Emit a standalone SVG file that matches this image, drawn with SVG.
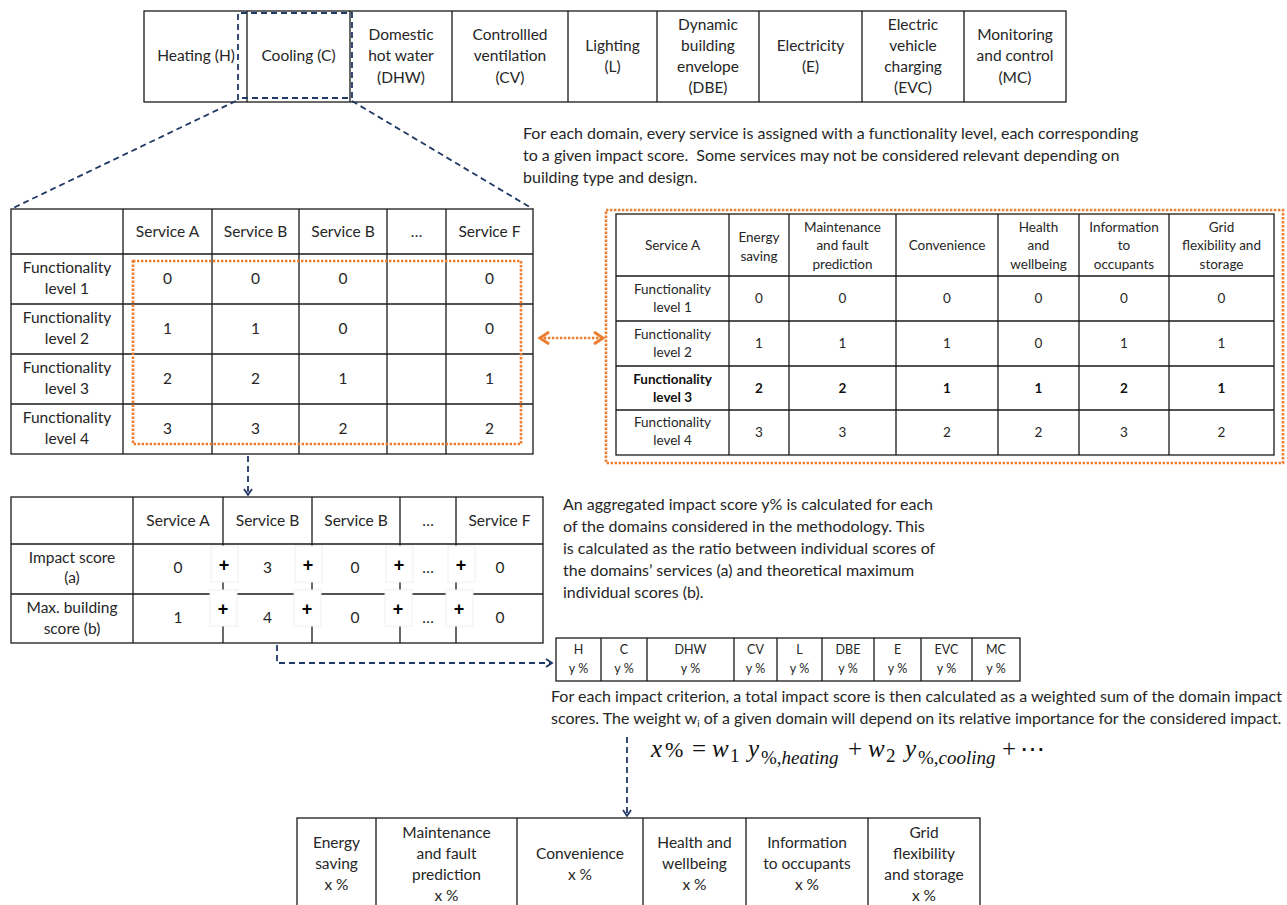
<svg xmlns="http://www.w3.org/2000/svg" width="1287" height="905" viewBox="0 0 1287 905">
<style>
.t{font-family:Lato,"Liberation Sans",sans-serif;fill:#262626;}
.c{text-anchor:middle;}
.f14{font-size:15.5px;}
.f12{font-size:13.5px;}
.f11{font-size:12.5px;}
.f15{font-size:16px;}
.cell{fill:#fff;stroke:#1a1a1a;stroke-width:1.3;}
.ln{stroke:#1a1a1a;stroke-width:1.3;fill:none;}
.blue{stroke:#203864;stroke-width:1.8;stroke-dasharray:6 4;fill:none;}
.orange{stroke:#ED7D31;stroke-width:2.6;stroke-dasharray:2.4 1.6;fill:none;}
.pbox{fill:#fff;stroke:#f0f0f0;stroke-width:1;}
.plus{font-family:"Liberation Sans",sans-serif;font-weight:bold;font-size:18px;fill:#000;text-anchor:middle;}
.b{font-weight:bold;fill:#111;}
.it{font-style:italic;}
.sub{font-size:19px;}
</style>
<defs>
<marker id="ab" markerWidth="10" markerHeight="10" refX="7" refY="5" orient="auto" markerUnits="userSpaceOnUse">
<path d="M1,1 L7,5 L1,9" fill="none" stroke="#203864" stroke-width="1.8"/>
</marker>
<marker id="ao" markerWidth="14" markerHeight="14" refX="10" refY="7" orient="auto-start-reverse" markerUnits="userSpaceOnUse">
<path d="M1,1 L10,7 L1,13" fill="none" stroke="#ED7D31" stroke-width="3"/>
</marker>
</defs>
<rect width="1287" height="905" fill="#fff"/>

<g id="domains">
<rect class="cell" x="144" y="11" width="922" height="91"/>
<path class="ln" d="M247,11V102M350,11V102M452,11V102M568,11V102M657,11V102M759,11V102M862,11V102M964,11V102"/>
<g class="t f14 c">
<text x="196" y="61">Heating (H)</text>
<text x="298.5" y="61">Cooling (C)</text>
<text x="401" y="40">Domestic</text><text x="401" y="61">hot water</text><text x="401" y="83">(DHW)</text>
<text x="510" y="40">Controllled</text><text x="510" y="61">ventilation</text><text x="510" y="83">(CV)</text>
<text x="612.5" y="51">Lighting</text><text x="612.5" y="72">(L)</text>
<text x="708" y="30">Dynamic</text><text x="708" y="51">building</text><text x="708" y="72">envelope</text><text x="708" y="93">(DBE)</text>
<text x="810.5" y="51">Electricity</text><text x="810.5" y="72">(E)</text>
<text x="913" y="30">Electric</text><text x="913" y="51">vehicle</text><text x="913" y="72">charging</text><text x="913" y="93">(EVC)</text>
<text x="1015" y="40">Monitoring</text><text x="1015" y="61">and control</text><text x="1015" y="83">(MC)</text>
</g>
</g>

<g id="text-domain" class="t f15">
<text x="523" y="139">For each domain, every service is assigned with a functionality level, each corresponding</text>
<text x="523" y="161" xml:space="preserve">to a given impact score.  Some services may not be considered relevant depending on</text>
<text x="523" y="183">building type and design.</text>
</g>

<g id="service-table">
<rect class="cell" x="11" y="209" width="522" height="245"/>
<path class="ln" d="M11,254H533M11,304H533M11,354H533M11,404H533M123,209V454M212,209V454M299,209V454M387,209V454M446,209V454"/>
<g class="t f14 c">
<text x="167.5" y="237">Service A</text><text x="255.5" y="237">Service B</text><text x="343" y="237">Service B</text><text x="416.5" y="237">…</text><text x="489.5" y="237">Service F</text>
<text x="67" y="273">Functionality</text><text x="67" y="294">level 1</text>
<text x="67" y="323">Functionality</text><text x="67" y="344">level 2</text>
<text x="67" y="373">Functionality</text><text x="67" y="394">level 3</text>
<text x="67" y="423">Functionality</text><text x="67" y="444">level 4</text>
<text x="167.5" y="284">0</text><text x="255.5" y="284">0</text><text x="343" y="284">0</text><text x="489.5" y="284">0</text>
<text x="167.5" y="334">1</text><text x="255.5" y="334">1</text><text x="343" y="334">0</text><text x="489.5" y="334">0</text>
<text x="167.5" y="384">2</text><text x="255.5" y="384">2</text><text x="343" y="384">1</text><text x="489.5" y="384">1</text>
<text x="167.5" y="434">3</text><text x="255.5" y="434">3</text><text x="343" y="434">2</text><text x="489.5" y="434">2</text>
</g>
<rect class="orange" x="133" y="261" width="388" height="183"/>
</g>

<g id="service-a-table">
<rect class="orange" x="606" y="210" width="677" height="253"/>
<rect class="cell" x="616" y="214" width="658" height="241"/>
<path class="ln" d="M616,276H1274M616,321H1274M616,366H1274M616,410H1274M729,214V455M789,214V455M896,214V455M998,214V455M1079,214V455M1169,214V455"/>
<g class="t f12 c">
<text x="672.5" y="250">Service A</text>
<text x="759" y="242">Energy</text><text x="759" y="261">saving</text>
<text x="842.5" y="232">Maintenance</text><text x="842.5" y="250">and fault</text><text x="842.5" y="269">prediction</text>
<text x="947" y="250">Convenience</text>
<text x="1038.5" y="232">Health</text><text x="1038.5" y="250">and</text><text x="1038.5" y="269">wellbeing</text>
<text x="1124" y="232">Information</text><text x="1124" y="250">to</text><text x="1124" y="269">occupants</text>
<text x="1221.5" y="232">Grid</text><text x="1221.5" y="250">flexibility and</text><text x="1221.5" y="269">storage</text>
<text x="672.5" y="294">Functionality</text><text x="672.5" y="312">level 1</text>
<text x="759" y="303">0</text><text x="842.5" y="303">0</text><text x="947" y="303">0</text><text x="1038.5" y="303">0</text><text x="1124" y="303">0</text><text x="1221.5" y="303">0</text>
<text x="672.5" y="339">Functionality</text><text x="672.5" y="357">level 2</text>
<text x="759" y="348">1</text><text x="842.5" y="348">1</text><text x="947" y="348">1</text><text x="1038.5" y="348">0</text><text x="1124" y="348">1</text><text x="1221.5" y="348">1</text>
<g class="b">
<text x="672.5" y="384">Functionality</text><text x="672.5" y="402">level 3</text>
<text x="759" y="393">2</text><text x="842.5" y="393">2</text><text x="947" y="393">1</text><text x="1038.5" y="393">1</text><text x="1124" y="393">2</text><text x="1221.5" y="393">1</text>
</g>
<text x="672.5" y="427">Functionality</text><text x="672.5" y="445">level 4</text>
<text x="759" y="437">3</text><text x="842.5" y="437">3</text><text x="947" y="437">2</text><text x="1038.5" y="437">2</text><text x="1124" y="437">3</text><text x="1221.5" y="437">2</text>
</g>
</g>

<g id="aggregation-table">
<rect class="cell" x="11" y="497" width="532" height="146"/>
<path class="ln" d="M11,544H543M11,594H543M133,497V643M223,497V643M312,497V643M400,497V643M456,497V643"/>
<g class="t f14 c">
<text x="178" y="526">Service A</text><text x="267.5" y="526">Service B</text><text x="356" y="526">Service B</text><text x="428" y="526">…</text><text x="499.5" y="526">Service F</text>
<text x="72" y="563">Impact score</text><text x="72" y="583">(a)</text>
<text x="72" y="613">Max. building</text><text x="72" y="634">score (b)</text>
<text x="178" y="573">0</text><text x="267.5" y="573">3</text><text x="355" y="573">0</text><text x="428" y="573">…</text><text x="500" y="573">0</text>
<text x="178" y="623">1</text><text x="267.5" y="623">4</text><text x="355" y="623">0</text><text x="428" y="623">…</text><text x="500" y="623">0</text>
</g>
<g id="plus-signs">
<rect class="pbox" x="211" y="546" width="27" height="36"/><rect class="pbox" x="295" y="546" width="27" height="36"/><rect class="pbox" x="386" y="546" width="27" height="36"/><rect class="pbox" x="448" y="546" width="27" height="36"/>
<rect class="pbox" x="210" y="590" width="27" height="36"/><rect class="pbox" x="294" y="590" width="27" height="36"/><rect class="pbox" x="385" y="590" width="27" height="36"/><rect class="pbox" x="446" y="590" width="27" height="36"/>
<text class="plus" x="224" y="571">+</text><text class="plus" x="308" y="571">+</text><text class="plus" x="399" y="571">+</text><text class="plus" x="461" y="571">+</text>
<text class="plus" x="223" y="615">+</text><text class="plus" x="307" y="615">+</text><text class="plus" x="398" y="615">+</text><text class="plus" x="459" y="615">+</text>
</g>
</g>

<g id="text-aggregation" class="t f15">
<text x="563" y="510">An aggregated impact score y% is calculated for each</text>
<text x="563" y="532">of the domains considered in the methodology. This</text>
<text x="563" y="554">is calculated as the ratio between individual scores of</text>
<text x="563" y="576">the domains’ services (a) and theoretical maximum</text>
<text x="563" y="598">individual scores (b).</text>
</g>

<g id="domain-scores">
<rect class="cell" x="556" y="638" width="464" height="43"/>
<path class="ln" d="M601,638V681M647,638V681M734,638V681M777,638V681M822,638V681M874,638V681M921,638V681M972,638V681"/>
<g class="t f11 c">
<text x="578.5" y="654">H</text><text x="578.5" y="673">y %</text>
<text x="624" y="654">C</text><text x="624" y="673">y %</text>
<text x="690.5" y="654">DHW</text><text x="690.5" y="673">y %</text>
<text x="755.5" y="654">CV</text><text x="755.5" y="673">y %</text>
<text x="799.5" y="654">L</text><text x="799.5" y="673">y %</text>
<text x="848" y="654">DBE</text><text x="848" y="673">y %</text>
<text x="897.5" y="654">E</text><text x="897.5" y="673">y %</text>
<text x="946.5" y="654">EVC</text><text x="946.5" y="673">y %</text>
<text x="996" y="654">MC</text><text x="996" y="673">y %</text>
</g>
</g>

<g id="text-weighting" class="t f15">
<text x="551" y="702">For each impact criterion, a total impact score is then calculated as a weighted sum of the domain impact</text>
<text x="551" y="724">scores. The weight w<tspan font-size="10" dy="3">i</tspan><tspan dy="-3"> of a given domain will depend on its relative importance for the considered impact.</tspan></text>
</g>

<g id="formula" font-family="'Liberation Serif','DejaVu Serif',serif" fill="#111" font-size="25">
<text x="651" y="757" class="it">x</text>
<text x="665" y="757" font-size="22">%</text>
<text x="692" y="757">=</text>
<text x="712" y="757" class="it">w</text>
<text x="730" y="762" class="sub">1</text>
<text x="748" y="757" class="it">y</text>
<text x="761" y="764" class="sub">%,<tspan class="it">heating</tspan></text>
<text x="848" y="757">+</text>
<text x="868" y="757" class="it">w</text>
<text x="886" y="762" class="sub">2</text>
<text x="905" y="757" class="it">y</text>
<text x="918" y="764" class="sub">%,<tspan class="it">cooling</tspan></text>
<text x="1002" y="757">+</text>
<text x="1020" y="757">⋯</text>
</g>

<g id="impact-scores">
<rect class="cell" x="297" y="818" width="683" height="100"/>
<path class="ln" d="M376,818V905M517,818V905M643,818V905M746,818V905M868,818V905"/>
<g class="t f14 c">
<text x="336.5" y="848">Energy</text><text x="336.5" y="869">saving</text><text x="336.5" y="890">x %</text>
<text x="446.5" y="838">Maintenance</text><text x="446.5" y="859">and fault</text><text x="446.5" y="880">prediction</text><text x="446.5" y="901">x %</text>
<text x="580" y="859">Convenience</text><text x="580" y="880">x %</text>
<text x="694.5" y="848">Health and</text><text x="694.5" y="869">wellbeing</text><text x="694.5" y="890">x %</text>
<text x="807" y="848">Information</text><text x="807" y="869">to occupants</text><text x="807" y="890">x %</text>
<text x="924" y="838">Grid</text><text x="924" y="859">flexibility</text><text x="924" y="880">and storage</text><text x="924" y="901">x %</text>
</g>
</g>

<g id="connectors">
<path class="blue" d="M238,100V13H352V98H240"/>
<path class="blue" d="M236,101L11,209"/>
<path class="blue" d="M352,101L533,209"/>
<path class="blue" d="M248,456V495" marker-end="url(#ab)"/>
<path class="blue" d="M277,645V663H552" marker-end="url(#ab)"/>
<path class="blue" d="M627,737V816" marker-end="url(#ab)"/>
<path class="orange" d="M540,338H603" marker-start="url(#ao)" marker-end="url(#ao)"/>
</g>
</svg>
